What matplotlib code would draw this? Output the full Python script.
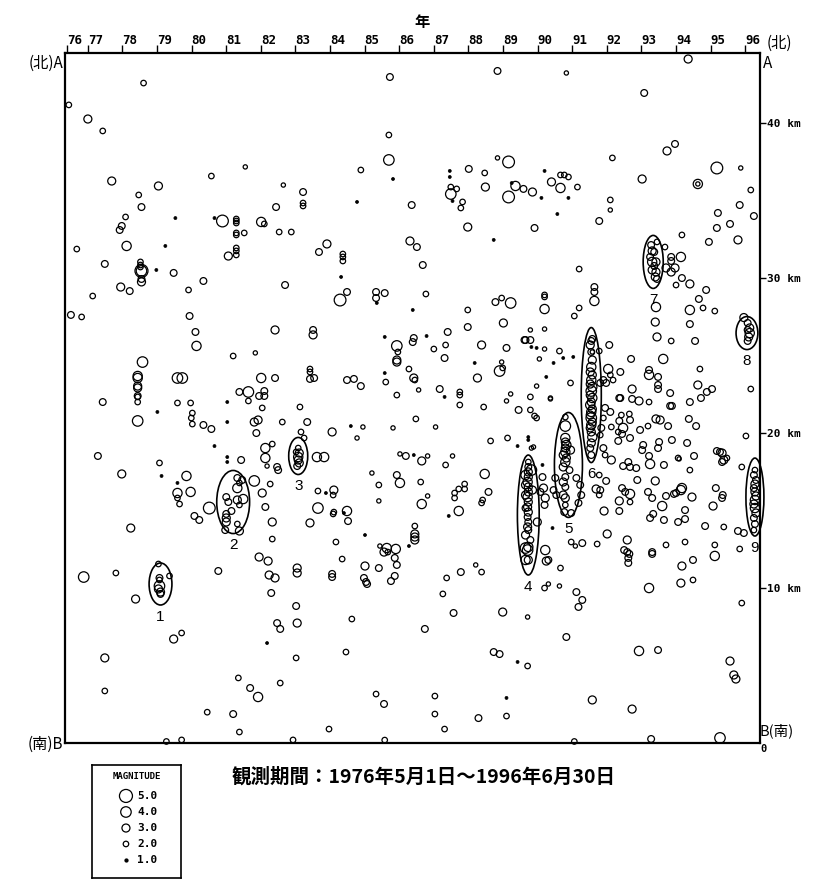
"""
Hypocenter time-depth plot along section A-B, 1976-05 .. 1996-06.
Circles are scaled by magnitude, ellipses mark the numbered swarms.
"""

import matplotlib
matplotlib.use("Agg")
import matplotlib.pyplot as plt
from matplotlib.patches import Ellipse


CJK = ["Noto Sans CJK JP", "DejaVu Sans"]
MONO = "DejaVu Sans Mono"

# events: (year, depth km, magnitude); magnitude 1 = dot
events_west_upper = [
    (78.61, 42.58, 2), (76.45, 41.17, 2), (77.00, 40.26, 3), (77.43, 39.49, 2),
    (81.55, 37.17, 1.5), (80.57, 36.58, 2), (77.69, 36.26, 3), (79.04, 35.94, 3),
    (82.65, 36.00, 1.5), (78.47, 35.36, 2), (78.55, 34.58, 2.5), (82.44, 34.58, 2.5),
    (78.09, 33.94, 2), (79.53, 33.87, 1), (80.66, 33.87, 1), (80.89, 33.68, 4.5),
    (81.29, 33.81, 2), (81.29, 33.68, 2), (81.29, 33.55, 2), (82.01, 33.62, 3.5),
    (82.10, 33.49, 2), (77.98, 33.36, 2.5), (77.92, 33.10, 2.5), (81.29, 32.91, 2),
    (81.29, 32.78, 2), (81.52, 32.91, 2), (82.53, 32.97, 2), (82.88, 32.97, 2),
    (76.68, 31.87, 2), (78.12, 32.07, 3.5), (79.24, 32.07, 1), (81.29, 31.94, 2),
    (81.29, 31.75, 2), (81.29, 31.49, 2), (81.06, 31.42, 3), (77.49, 30.91, 2.5),
    (78.52, 31.04, 2), (78.52, 30.84, 2), (78.52, 30.71, 2), (78.55, 30.46, 5),
    (78.55, 30.46, 4), (78.98, 30.52, 1), (79.48, 30.33, 2.5), (78.55, 29.94, 2.5),
    (78.55, 29.75, 3), (80.34, 29.81, 2.5), (82.70, 29.55, 2.5), (77.95, 29.42, 3),
    (78.21, 29.16, 2.5), (79.91, 29.23, 2), (77.14, 28.84, 2), (76.51, 27.62, 2.5),
    (76.82, 27.49, 2), (79.94, 27.55, 2.5), (80.11, 26.52, 2.5), (82.41, 26.65, 3),
    (80.14, 25.62, 3.5), (81.20, 24.97, 2), (81.84, 25.17, 1.5), (78.58, 24.58, 4),
    (78.44, 23.68, 3.5), (78.44, 23.55, 3.5), (78.44, 23.03, 3), (78.44, 22.91, 3),
    (78.44, 22.39, 2.5), (79.59, 23.55, 4), (79.73, 23.55, 4), (82.01, 23.55, 3.5),
    (82.41, 23.55, 2.5), (81.38, 22.65, 2.5), (81.64, 22.65, 4), (81.95, 22.39, 2.5),
    (82.10, 22.71, 2.5), (82.10, 22.39, 2.5),
]

events_center_upper = [
    (85.73, 42.97, 2.5), (88.84, 43.36, 2.5), (85.70, 39.23, 2), (85.70, 37.62, 4),
    (84.89, 36.97, 2), (85.82, 36.39, 1), (87.46, 36.91, 1), (87.46, 36.52, 1),
    (88.01, 37.04, 2.5), (88.47, 36.78, 2), (88.84, 37.75, 1.5), (89.16, 37.49, 4.5),
    (87.49, 35.87, 2), (87.49, 35.42, 4), (87.66, 35.75, 2), (87.54, 34.97, 1),
    (87.83, 34.91, 2), (87.78, 34.52, 2), (88.49, 35.87, 3), (89.36, 35.94, 3.5),
    (89.59, 35.75, 2.5), (89.25, 36.13, 1), (89.16, 35.23, 4.5), (83.22, 35.55, 2.5),
    (83.22, 34.84, 2), (83.22, 34.65, 2), (84.78, 34.91, 1), (86.36, 34.71, 2.5),
    (87.98, 33.29, 3), (88.73, 32.46, 1), (83.91, 32.20, 3), (83.68, 31.68, 2.5),
    (84.37, 31.55, 2), (84.37, 31.36, 2), (84.37, 31.10, 2), (86.31, 32.39, 3),
    (86.51, 32.00, 2.5), (86.68, 30.84, 2.5), (84.32, 30.07, 1), (84.49, 29.10, 2.5),
    (84.29, 28.58, 4.5), (85.33, 29.10, 2.5), (85.33, 28.71, 2.5), (85.35, 28.39, 1),
    (85.58, 29.03, 2.5), (86.77, 28.97, 2), (86.39, 27.94, 1), (87.98, 27.94, 2),
    (88.78, 28.45, 2.5), (88.96, 28.71, 2), (89.22, 28.39, 4), (87.98, 26.84, 2.5),
    (89.01, 27.10, 3), (83.51, 26.65, 2.5), (83.51, 26.33, 3), (85.58, 26.20, 1),
    (86.42, 26.13, 2.5), (86.39, 25.87, 2.5), (86.79, 26.26, 1), (87.40, 26.52, 2.5),
    (85.93, 25.62, 4), (85.96, 25.23, 2), (85.93, 24.71, 3), (85.93, 24.58, 3),
    (87.00, 25.42, 2), (87.34, 25.68, 2), (87.31, 24.84, 2.5), (88.38, 25.68, 3),
    (89.10, 25.49, 2.5), (89.62, 26.00, 2.5), (86.28, 24.13, 2), (86.42, 23.55, 3),
    (86.45, 23.42, 2), (85.58, 23.87, 1), (85.61, 23.29, 2), (83.42, 24.13, 2),
    (83.42, 23.94, 2), (83.42, 23.49, 2.5), (83.54, 23.55, 2.5), (84.49, 23.42, 2.5),
    (84.69, 23.49, 2.5), (84.89, 23.03, 2.5), (85.93, 22.45, 2), (86.56, 22.78, 1.5),
    (87.17, 22.84, 2.5), (87.31, 22.33, 1), (87.75, 22.65, 2), (87.75, 22.45, 2),
    (88.18, 24.52, 1), (88.26, 23.55, 3), (88.90, 24.00, 4), (88.99, 24.20, 2),
    (88.96, 24.58, 1.5), (89.22, 22.52, 1.5),
]

events_east_upper = [
    (94.35, 44.13, 3), (90.83, 43.23, 1.5), (93.08, 41.94, 2.5), (93.97, 38.65, 2.5),
    (93.74, 38.20, 3), (92.16, 37.75, 2), (95.18, 37.10, 4.5), (95.87, 37.10, 1.5),
    (93.02, 36.39, 3), (94.63, 36.07, 3.5), (94.63, 36.07, 1.5), (96.16, 35.68, 2),
    (95.84, 34.71, 2.5), (96.25, 34.00, 2.5), (95.21, 34.20, 2.5), (95.56, 33.49, 2.5),
    (95.18, 33.23, 2.5), (94.17, 32.78, 2), (94.95, 32.33, 2.5), (95.79, 32.46, 3),
    (90.20, 36.91, 1), (90.40, 36.20, 3), (90.66, 36.65, 2), (90.77, 36.65, 2),
    (90.89, 36.52, 2), (90.66, 35.81, 3.5), (91.15, 35.87, 2), (90.89, 35.17, 1),
    (90.11, 35.17, 1), (90.57, 34.13, 1), (89.85, 35.55, 3), (92.10, 35.04, 2),
    (92.10, 34.39, 1.5), (91.78, 33.68, 2.5), (89.91, 33.23, 2.5), (93.68, 32.00, 2),
    (93.86, 31.36, 2.5), (93.86, 31.10, 2.5), (94.14, 31.36, 3.5), (93.97, 30.65, 3),
    (93.86, 30.39, 3), (93.71, 30.65, 3), (94.17, 30.00, 2.5), (94.40, 29.62, 3),
    (94.00, 29.55, 2), (94.87, 29.23, 2.5), (94.66, 28.65, 2.5), (94.78, 28.07, 2),
    (94.40, 27.94, 3.5), (95.12, 27.87, 2), (93.42, 28.13, 3.5), (93.40, 27.16, 3),
    (94.40, 27.03, 2.5), (93.45, 26.20, 3), (93.86, 25.94, 2), (94.55, 25.94, 2.5),
    (93.63, 24.78, 3.5), (92.70, 24.78, 2.5), (91.20, 30.58, 2), (91.64, 29.42, 2.5),
    (91.64, 29.10, 2.5), (91.64, 28.52, 3.5), (90.20, 28.91, 2), (90.20, 28.78, 2),
    (90.20, 28.00, 3.5), (91.20, 28.07, 2), (91.06, 27.55, 2), (91.58, 26.07, 2.5),
    (92.07, 25.68, 2.5), (91.78, 25.29, 2), (91.58, 25.23, 1.5), (90.63, 25.29, 2),
    (91.03, 24.91, 1), (90.74, 24.84, 1), (90.46, 24.52, 1), (90.05, 24.78, 1.5),
    (90.20, 25.42, 1.5), (89.97, 25.49, 1), (89.82, 25.55, 1), (89.79, 26.00, 2.5),
    (89.65, 26.00, 2.5), (89.79, 26.65, 1.5), (90.20, 26.71, 1.5), (92.04, 24.13, 3.5),
    (92.10, 23.75, 2), (92.39, 23.94, 2.5), (92.18, 23.42, 2), (93.22, 24.07, 2.5),
    (93.22, 23.75, 3.5), (93.48, 23.62, 2.5), (93.48, 23.10, 2.5), (93.48, 22.84, 2.5),
    (93.83, 22.58, 2.5), (94.69, 24.13, 2), (94.63, 23.10, 3), (94.89, 22.65, 2.5),
    (95.04, 22.84, 2.5), (96.16, 22.84, 2), (92.73, 22.84, 3), (92.39, 22.26, 2.5),
    (90.95, 23.23, 2), (90.25, 23.62, 1), (89.97, 23.03, 1.5), (89.79, 22.33, 2),
    (90.37, 22.26, 1.5),
]

events_west_lower = [
    (77.43, 22.00, 2.5), (78.44, 22.33, 2), (78.44, 22.00, 2), (78.44, 20.78, 4),
    (79.01, 21.36, 1), (79.59, 21.94, 2), (79.97, 21.94, 2), (80.02, 21.29, 2),
    (79.99, 20.97, 2), (80.02, 20.58, 2), (80.34, 20.52, 2.5), (80.57, 20.26, 2.5),
    (81.03, 22.00, 1), (81.03, 20.71, 1), (81.64, 22.07, 2), (81.81, 20.71, 3),
    (81.92, 20.84, 3), (82.04, 21.62, 2), (82.62, 20.71, 2), (81.87, 20.00, 2.5),
    (80.66, 19.16, 1), (77.29, 18.52, 2.5), (79.07, 18.07, 2), (77.98, 17.36, 3),
    (79.13, 17.23, 1), (79.85, 17.23, 3.5), (79.59, 16.78, 1), (79.59, 16.13, 3.5),
    (79.97, 16.20, 3.5), (79.59, 15.81, 2), (79.65, 15.42, 2), (80.51, 15.16, 4.5),
    (80.08, 14.65, 2.5), (80.22, 14.39, 2.5), (81.03, 18.45, 1), (81.03, 18.13, 1),
    (81.43, 18.26, 2.5), (82.13, 19.03, 3.5), (82.33, 19.29, 2), (82.13, 18.39, 3.5),
    (82.18, 17.87, 1.5), (82.47, 17.81, 2.5), (82.50, 17.61, 2.5), (81.81, 16.91, 4),
    (82.04, 16.13, 3), (82.27, 16.71, 2), (82.13, 15.23, 2.5), (82.33, 14.26, 3),
    (82.33, 13.16, 2), (81.95, 12.00, 3), (82.21, 11.74, 3), (82.24, 10.84, 3),
    (82.41, 10.65, 3), (82.30, 9.68, 2.5), (80.77, 11.10, 2.5), (76.88, 10.71, 4),
    (77.81, 10.97, 2), (78.24, 13.87, 3), (78.38, 9.29, 3), (79.48, 6.71, 3),
    (79.71, 7.10, 2), (77.49, 5.49, 3), (77.49, 3.36, 2), (80.45, 1.99, 2),
    (81.20, 1.87, 2.5), (81.35, 4.20, 2), (81.69, 3.55, 2.5), (81.92, 2.97, 3.5),
    (82.56, 3.87, 2), (81.38, 0.71, 2), (79.27, 0.10, 2), (79.71, 0.20, 2),
    (82.93, 0.20, 2), (82.18, 6.45, 1), (82.47, 7.74, 2.5), (82.56, 7.36, 2.5),
    (83.02, 8.84, 2.5), (83.05, 7.74, 3), (83.02, 5.49, 2), (83.05, 11.29, 3),
    (83.05, 10.97, 3),
]

events_center_lower = [
    (83.13, 21.68, 2), (83.34, 20.71, 2.5), (84.06, 20.07, 3), (83.16, 20.07, 2),
    (83.25, 19.68, 2), (83.62, 18.45, 3.5), (83.83, 18.45, 3.5), (84.60, 20.45, 1),
    (84.95, 20.39, 1.5), (84.78, 19.68, 1.5), (85.82, 20.33, 1.5), (86.48, 20.91, 2),
    (87.05, 20.39, 1.5), (87.75, 21.81, 2), (88.44, 21.68, 2), (89.10, 22.07, 1.5),
    (89.45, 21.49, 2.5), (88.64, 19.49, 2), (89.13, 19.68, 2), (89.42, 19.16, 1),
    (86.02, 18.65, 1.5), (86.19, 18.52, 2.5), (86.42, 18.58, 1), (86.65, 18.20, 3),
    (86.82, 18.52, 1.5), (87.54, 18.52, 1.5), (87.34, 17.94, 2), (88.47, 17.36, 3.5),
    (85.21, 17.42, 1.5), (85.93, 17.29, 2.5), (86.02, 16.78, 3.5), (85.41, 16.65, 2),
    (86.62, 16.84, 2), (83.65, 16.26, 2), (83.88, 16.13, 1), (84.11, 16.32, 3),
    (84.09, 16.00, 2), (85.41, 15.62, 1.5), (86.82, 15.94, 1.5), (86.65, 15.42, 3.5),
    (87.89, 16.71, 2), (87.89, 16.39, 2), (87.72, 16.39, 2), (87.60, 16.13, 2),
    (87.60, 15.81, 2), (88.58, 16.20, 2.5), (88.41, 15.68, 2), (88.38, 15.49, 2),
    (87.72, 14.97, 3.5), (87.43, 14.65, 1), (83.65, 15.16, 4), (84.11, 14.90, 2),
    (84.09, 14.78, 2), (84.49, 14.97, 3.5), (84.40, 14.84, 1), (84.52, 14.32, 2.5),
    (83.42, 14.20, 3), (86.45, 14.00, 2), (86.45, 13.49, 3), (86.45, 13.29, 3),
    (86.45, 13.10, 3), (85.01, 13.42, 1), (84.17, 12.97, 2), (85.44, 12.71, 1.5),
    (85.64, 12.58, 3.5), (85.56, 12.32, 3), (85.67, 12.32, 2), (85.90, 12.52, 3.5),
    (85.87, 11.94, 2.5), (86.28, 12.71, 1), (85.93, 11.49, 2.5), (85.87, 10.78, 2.5),
    (85.76, 10.45, 2.5), (84.35, 11.87, 2), (85.01, 11.42, 3), (84.98, 10.65, 2.5),
    (85.04, 10.39, 2.5), (85.07, 10.26, 2.5), (85.41, 11.29, 2.5), (84.06, 10.91, 2.5),
    (84.06, 10.71, 2.5), (87.37, 10.65, 2), (87.78, 11.03, 2.5), (88.21, 11.49, 1.5),
    (88.38, 11.03, 2), (87.26, 9.62, 2), (84.63, 8.00, 2), (86.74, 7.36, 2.5),
    (87.57, 8.39, 2.5), (88.99, 8.45, 3), (84.46, 5.87, 2), (88.73, 5.87, 2.5),
    (88.90, 5.74, 2.5), (89.42, 5.23, 1), (85.33, 3.16, 2), (85.56, 2.52, 2.5),
    (87.03, 3.03, 2), (87.03, 1.87, 2), (88.29, 1.61, 2.5), (89.10, 1.74, 2),
    (89.10, 2.91, 1), (87.31, 0.90, 2), (83.97, 0.90, 2), (85.58, 0.19, 2),
]

events_east_lower = [
    (90.14, 17.16, 2.5), (90.17, 16.45, 3), (90.08, 16.20, 2.5), (90.22, 15.81, 3),
    (90.20, 15.36, 2.5), (89.99, 14.26, 3), (90.22, 12.45, 3.5), (90.25, 11.74, 3),
    (90.31, 11.81, 2.5), (89.82, 19.03, 1.5), (89.88, 19.10, 1.5), (89.73, 19.74, 1),
    (89.73, 19.55, 1), (89.79, 21.49, 2), (89.97, 20.97, 2), (89.91, 21.10, 2),
    (90.37, 22.20, 1.5), (90.14, 17.94, 1), (90.66, 11.29, 2), (90.63, 10.13, 1.5),
    (90.20, 10.00, 2), (90.31, 10.26, 1.5), (89.71, 8.13, 1.5), (89.71, 4.97, 2),
    (90.83, 6.84, 2.5), (91.12, 9.74, 2.5), (91.29, 9.23, 2.5), (91.18, 8.78, 2.5),
    (90.97, 12.97, 2), (91.09, 12.71, 1.5), (91.29, 12.90, 2.5), (90.43, 13.87, 1),
    (90.51, 17.10, 2.5), (90.46, 16.32, 2.5), (90.54, 16.00, 2.5), (91.12, 17.10, 2.5),
    (91.23, 16.65, 2.5), (91.26, 16.00, 2.5), (91.18, 15.49, 2.5), (90.97, 14.84, 2.5),
    (91.95, 21.62, 2.5), (92.10, 21.36, 2.5), (91.90, 20.97, 2), (91.84, 20.33, 2.5),
    (91.81, 19.87, 2), (92.13, 20.39, 2), (91.90, 19.03, 2.5), (91.95, 18.58, 2),
    (91.90, 23.42, 2.5), (91.81, 23.23, 2.5), (91.98, 23.23, 2.5), (92.36, 22.26, 2.5),
    (92.73, 22.20, 2.5), (92.93, 22.07, 3), (93.22, 22.00, 2), (93.83, 21.75, 2.5),
    (93.88, 21.75, 2.5), (94.40, 22.00, 2.5), (94.72, 22.26, 2.5), (92.42, 21.16, 2),
    (92.65, 21.23, 2), (92.36, 20.78, 2.5), (92.67, 20.84, 2.5), (92.47, 20.33, 3.5),
    (92.33, 20.07, 2), (92.44, 19.94, 2.5), (92.96, 20.20, 2.5), (93.19, 20.45, 2),
    (93.42, 20.91, 3), (93.54, 20.84, 3), (93.77, 20.45, 2.5), (94.37, 20.91, 2.5),
    (94.58, 20.45, 2.5), (92.33, 19.49, 2.5), (92.67, 19.68, 2.5), (93.88, 19.55, 2.5),
    (93.51, 19.42, 2.5), (93.48, 19.03, 2.5), (93.05, 19.23, 2.5), (93.02, 18.90, 2.5),
    (94.32, 19.36, 2.5), (93.22, 18.52, 2.5), (93.25, 18.00, 3.5), (93.65, 17.94, 2.5),
    (94.06, 18.39, 2), (94.09, 18.33, 1.5), (94.52, 18.52, 2.5), (92.13, 18.26, 3),
    (92.47, 17.87, 2.5), (92.62, 18.13, 2.5), (92.67, 17.81, 2.5), (92.85, 17.74, 2.5),
    (94.40, 17.61, 2), (95.18, 18.84, 2.5), (95.27, 18.78, 2.5), (95.33, 18.71, 3),
    (95.33, 18.13, 2.5), (95.38, 18.26, 3), (95.47, 18.39, 2), (95.90, 17.81, 2),
    (96.02, 19.81, 2), (91.78, 17.29, 2), (91.98, 16.91, 2.5), (91.69, 16.39, 3),
    (91.81, 16.32, 2.5), (91.78, 16.00, 2), (92.44, 16.45, 2.5), (92.67, 16.07, 3.5),
    (92.53, 16.20, 2.5), (92.36, 15.62, 3), (92.67, 15.55, 2), (91.92, 14.97, 3),
    (92.36, 14.97, 2.5), (92.88, 16.97, 2.5), (93.19, 16.20, 2.5), (93.40, 16.91, 3),
    (93.31, 15.81, 2.5), (93.60, 15.29, 3.5), (93.71, 15.94, 2.5), (93.94, 16.07, 2.5),
    (94.00, 16.13, 2.5), (94.17, 16.45, 3.5), (94.14, 16.32, 3.5), (94.46, 15.87, 3),
    (94.26, 15.03, 2.5), (93.34, 14.78, 2.5), (93.25, 14.52, 2.5), (93.65, 14.39, 2.5),
    (94.06, 14.26, 2.5), (94.26, 14.45, 2.5), (95.07, 15.29, 3), (95.15, 16.45, 2.5),
    (95.35, 16.00, 2.5), (95.33, 15.81, 2.5), (94.84, 14.00, 2.5), (95.38, 13.94, 2),
    (95.79, 13.68, 2.5), (95.96, 13.55, 2.5), (92.01, 13.49, 3), (91.72, 12.84, 2),
    (92.59, 13.10, 3), (92.50, 12.45, 2.5), (92.59, 12.32, 2.5), (92.65, 12.20, 2.5),
    (92.62, 11.94, 2.5), (92.62, 11.62, 2.5), (93.31, 12.32, 2.5), (93.31, 12.20, 2.5),
    (93.71, 12.78, 2), (94.26, 12.97, 2), (95.12, 12.78, 2), (95.12, 12.07, 3.5),
    (95.84, 12.52, 2), (94.17, 11.42, 3), (94.49, 11.81, 2.5), (94.14, 10.32, 3),
    (94.49, 10.52, 2), (93.22, 10.00, 3.5), (95.90, 9.03, 2), (92.93, 5.94, 3.5),
    (93.48, 6.00, 2.5), (91.58, 2.78, 3), (92.73, 2.19, 3), (95.56, 5.29, 3),
    (95.67, 4.39, 3), (95.73, 4.13, 3), (91.06, 0.10, 2), (93.28, 0.26, 2.5),
    (95.27, 0.33, 4),
]

# swarm events
swarm_1 = [
    (79.04, 11.55, 2), (79.07, 10.65, 2.5), (79.07, 10.52, 2), (79.04, 9.94, 3),
    (79.10, 9.74, 3), (79.36, 10.78, 2), (79.07, 10.13, 4), (79.10, 9.62, 2.5),
]
swarm_2 = [
    (81.32, 17.10, 2.5), (81.32, 16.45, 3.5), (81.46, 16.97, 2.5), (81.38, 16.78, 2),
    (81.00, 15.87, 2.5), (81.06, 15.55, 2.5), (81.32, 15.68, 3), (81.49, 15.74, 3.5),
    (81.15, 14.97, 2.5), (81.00, 14.78, 2.5), (81.00, 14.52, 3), (81.00, 14.26, 3),
    (81.32, 14.13, 2), (81.38, 13.68, 3), (80.97, 13.74, 2.5), (81.38, 15.36, 2),
]
swarm_3 = [
    (83.08, 19.03, 2), (83.11, 18.71, 3), (83.08, 18.45, 3.5), (83.08, 18.26, 3),
    (83.11, 18.07, 3), (83.05, 17.87, 2.5), (83.02, 18.78, 2),
]
swarm_4 = [
    (89.73, 18.13, 2), (89.73, 17.81, 2.5), (89.73, 17.49, 3), (89.73, 17.16, 3),
    (89.71, 16.84, 3.5), (89.73, 16.52, 3), (89.73, 16.20, 3), (89.71, 15.87, 3.5),
    (89.73, 15.55, 3), (89.71, 15.23, 3), (89.73, 14.90, 3), (89.71, 14.58, 2.5),
    (89.73, 14.26, 2.5), (89.71, 13.94, 3), (89.73, 13.74, 2.5), (89.73, 12.65, 3.5),
    (89.71, 12.45, 4), (89.73, 11.81, 3), (89.65, 17.29, 3.5), (89.65, 16.65, 3),
    (89.65, 16.00, 3), (89.65, 15.16, 2.5), (89.65, 13.42, 3), (89.65, 12.58, 4),
    (89.65, 11.81, 3.5), (89.82, 17.61, 4), (89.85, 16.32, 3), (89.79, 13.10, 2.5),
]
swarm_5 = [
    (90.80, 21.03, 2), (90.80, 20.45, 4), (90.80, 19.68, 3.5), (90.80, 19.42, 3),
    (90.83, 19.23, 3.5), (90.80, 19.03, 3), (90.80, 18.78, 3.5), (90.74, 18.58, 3),
    (90.83, 18.39, 3), (90.80, 18.13, 3.5), (90.74, 17.81, 3), (90.80, 17.16, 2.5),
    (90.74, 16.84, 3), (90.80, 16.52, 2.5), (90.74, 16.00, 3), (90.80, 15.81, 3),
    (90.80, 15.36, 2), (90.77, 14.90, 2.5), (90.95, 18.90, 3), (90.92, 17.61, 2.5),
]
swarm_6 = [
    (91.55, 25.94, 2.5), (91.52, 25.68, 3), (91.55, 25.23, 2.5), (91.58, 24.71, 3),
    (91.55, 24.26, 3.5), (91.52, 23.94, 3), (91.58, 23.75, 3), (91.55, 23.42, 3.5),
    (91.52, 23.16, 3), (91.58, 22.97, 3.5), (91.55, 22.71, 4), (91.52, 22.45, 3),
    (91.58, 22.26, 3.5), (91.55, 22.00, 3), (91.52, 21.81, 3.5), (91.58, 21.55, 3),
    (91.55, 21.36, 3.5), (91.52, 21.16, 3), (91.55, 20.97, 4), (91.58, 20.71, 3),
    (91.55, 20.52, 3.5), (91.52, 20.33, 3), (91.55, 20.07, 3), (91.58, 19.74, 3.5),
    (91.55, 19.36, 3), (91.52, 19.03, 2.5), (91.55, 18.58, 2.5),
]
swarm_7 = [
    (93.28, 32.13, 2.5), (93.31, 31.75, 3), (93.37, 31.68, 2.5), (93.45, 32.33, 2),
    (93.31, 31.04, 3.5), (93.42, 31.04, 3), (93.31, 30.52, 3), (93.42, 30.39, 3),
    (93.40, 30.07, 3), (93.45, 29.94, 2.5), (93.25, 31.36, 2.5), (93.37, 30.78, 2.5),
]
swarm_8 = [
    (96.07, 27.10, 2.5), (96.13, 26.78, 3), (96.13, 26.45, 3.5), (96.10, 26.20, 3),
    (96.07, 25.94, 2.5), (95.96, 27.45, 3), (96.07, 26.65, 2.5),
]
swarm_9 = [
    (96.28, 17.61, 2), (96.25, 17.29, 2.5), (96.31, 16.97, 2.5), (96.28, 16.71, 3),
    (96.25, 16.45, 2.5), (96.28, 16.20, 3), (96.31, 15.94, 3), (96.28, 15.68, 3.5),
    (96.25, 15.42, 3), (96.28, 15.16, 3.5), (96.31, 14.84, 3), (96.25, 14.52, 2.5),
    (96.28, 14.13, 2.5), (96.25, 13.74, 2),
]

# swarm ellipses: centre year, centre depth, width (years), height (km)
swarm_ids = [1, 2, 3, 4, 5, 6, 7, 8, 9]
swarm_year = [79.10, 81.20, 83.08, 89.73, 90.89, 91.55, 93.34, 96.05, 96.28]
swarm_depth = [10.26, 15.55, 18.52, 14.71, 17.94, 22.45, 31.04, 26.45, 15.87]
swarm_width = [0.66, 0.95, 0.55, 0.63, 0.81, 0.58, 0.58, 0.63, 0.52]
swarm_height = [2.71, 4.07, 2.39, 7.74, 6.77, 8.71, 3.42, 2.13, 5.03]

year_ticks = [76.4] + list(range(77, 97))
year_labels = [str(y) for y in range(76, 97)]
depth_ticks = [10, 20, 30, 40]
depth_labels = ["10 km", "20 km", "30 km", "40 km"]
legend_mags = [5.0, 4.0, 3.0, 2.0, 1.0]

START, END = 76.33, 96.42   # observation period 1976-05-01 .. 1996-06-30
DEPTH_TOP = 44.52


def marker_area(mag):
    diameter_px = 3 + 2.5 * (mag - 1)
    return (diameter_px * 0.72) ** 2


def draw_events(ax, events):
    hollow = [e for e in events if e[2] > 1]
    dots = [e for e in events if e[2] <= 1]
    if hollow:
        xs, ys, ms = zip(*hollow)
        ax.scatter(xs, ys, s=[marker_area(m) for m in ms], facecolors="none",
                   edgecolors="black", linewidths=0.9, clip_on=False, zorder=3)
    if dots:
        xs, ys, ms = zip(*dots)
        ax.scatter(xs, ys, s=[marker_area(m) for m in ms], facecolors="black",
                   edgecolors="black", linewidths=0.5, clip_on=False, zorder=3)


fig = plt.figure(figsize=(8.27, 8.89), dpi=100)
ax = fig.add_axes([0.0782, 0.1642, 0.8405, 0.7762])
ax.set_xlim(START, END)
ax.set_ylim(0, DEPTH_TOP)

for group in (events_west_upper, events_center_upper, events_east_upper,
              events_west_lower, events_center_lower, events_east_lower,
              swarm_1, swarm_2, swarm_3, swarm_4, swarm_5, swarm_6,
              swarm_7, swarm_8, swarm_9):
    draw_events(ax, group)

for sid, cx, cy, w, h in zip(swarm_ids, swarm_year, swarm_depth,
                             swarm_width, swarm_height):
    ax.add_patch(Ellipse((cx, cy), w, h, fill=False, edgecolor="black",
                         linewidth=1.2, clip_on=False, zorder=4))
    ax.text(cx, cy - h / 2 - 0.75, str(sid), ha="center", va="center",
            fontsize=11, family="Liberation Sans", zorder=5)

for side in ("left", "right", "top", "bottom"):
    ax.spines[side].set_linewidth(1.6)

ax.xaxis.set_ticks_position("top")
ax.set_xticks(year_ticks)
ax.set_xticklabels(year_labels, ha="left", family=MONO, fontweight="bold",
                   fontsize=9)
ax.tick_params(axis="x", direction="out", length=6, width=1, pad=-2)

ax.yaxis.set_ticks_position("right")
ax.set_yticks(depth_ticks)
ax.set_yticklabels(depth_labels, family=MONO, fontweight="bold", fontsize=8)
ax.tick_params(axis="y", direction="out", length=4, width=1, pad=1)

fig.text(0.510, 0.975, "年", family=CJK, fontweight="bold", fontsize=11,
         ha="center", va="center")
fig.text(0.0765, 0.929, "(北)A", family=CJK, fontsize=11, ha="right",
         va="center")
fig.text(0.0765, 0.163, "(南)B", family=CJK, fontsize=11, ha="right",
         va="center")
fig.text(0.927, 0.951, "(北)", family=CJK, fontsize=11, ha="left",
         va="center")
fig.text(0.922, 0.929, "A", family=CJK, fontsize=11, ha="left", va="center")
fig.text(0.918, 0.178, "B(南)", family=CJK, fontsize=10.5, ha="left",
         va="center")
fig.text(0.919, 0.157, "0", family=MONO, fontweight="bold", fontsize=7.5,
         ha="left", va="center")

fig.text(0.2805, 0.126, "観測期間：1976年5月1日～1996年6月30日", family=CJK,
         fontweight="bold", fontsize=14, ha="left", va="center")

# magnitude legend box
lax = fig.add_axes([0.1112, 0.0124, 0.1076, 0.1271])
lax.set_xlim(0, 1)
lax.set_ylim(0, 1)
lax.set_xticks([])
lax.set_yticks([])
for side in ("left", "right", "top", "bottom"):
    lax.spines[side].set_linewidth(1.2)
lax.text(0.5, 0.894, "MAGNITUDE", family=MONO, fontweight="bold",
         fontsize=6.5, ha="center", va="center")
row_y = [0.726, 0.584, 0.442, 0.301, 0.159]
for mag, yy in zip(legend_mags, row_y):
    filled = mag <= 1
    lax.scatter([0.382], [yy], s=marker_area(mag),
                facecolors="black" if filled else "none",
                edgecolors="black", linewidths=0.9)
    lax.text(0.506, yy, f"{mag:.1f}", family=MONO, fontweight="bold",
             fontsize=8, ha="left", va="center")

fig.savefig("out.png", dpi=100)
